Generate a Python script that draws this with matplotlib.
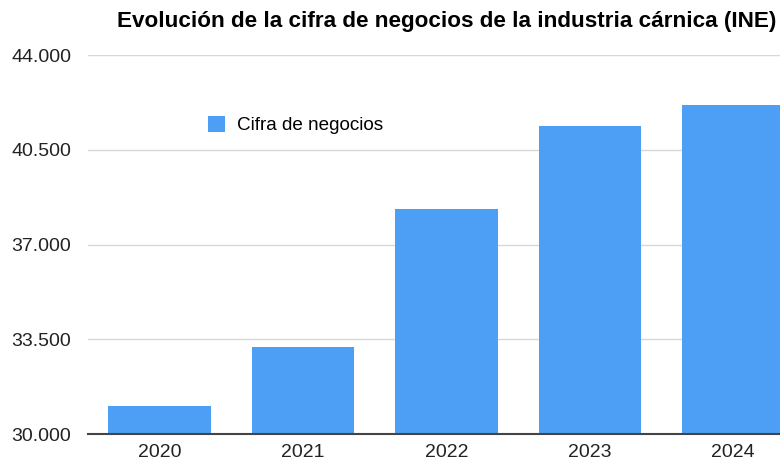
import matplotlib.pyplot as plt
from matplotlib.ticker import FuncFormatter

plt.rcParams['font.family'] = ['Liberation Sans', 'DejaVu Sans']

years = ['2020', '2021', '2022', '2023', '2024']
cifra = [31030, 33210, 38300, 41360, 42150]
yticks = [30000, 33500, 37000, 40500, 44000]

fig = plt.figure(figsize=(7.8, 4.7), dpi=100)
# axes runs past the right edge, as in the cropped original
ax = fig.add_axes([88 / 780, 36 / 470, 717 / 780, 379 / 470])

ax.bar(range(len(years)), cifra, width=0.715, color='#4c9ff5',
       label='Cifra de negocios', zorder=2)

ax.set_xlim(-0.5, len(years) - 0.5)
ax.set_ylim(30000, 44000)
ax.set_yticks(yticks)
ax.yaxis.set_major_formatter(FuncFormatter(lambda v, p: f'{int(v):,}'.replace(',', '.')))
ax.set_xticks(range(len(years)))
ax.set_xticklabels(years)
ax.tick_params(axis='both', length=0, labelsize=14, colors='#222222')
ax.tick_params(axis='y', pad=12)
ax.tick_params(axis='x', pad=7)

ax.grid(axis='y', color='#d8d8d8', linewidth=1, zorder=0)
for s in ['top', 'right', 'left']:
    ax.spines[s].set_visible(False)
ax.spines['bottom'].set_color('#444444')
ax.spines['bottom'].set_linewidth(1.5)
ax.spines['bottom'].set_zorder(3)

ax.legend(loc='upper left', bbox_to_anchor=(0.143, 0.885), frameon=False,
          fontsize=13.6, handlelength=0.95, handleheight=0.95, handletextpad=0.6)

ax.set_title('Evolución de la cifra de negocios de la industria cárnica (INE)',
             fontsize=16.2, fontweight='bold', pad=20)

fig.savefig('out.png', dpi=100)
